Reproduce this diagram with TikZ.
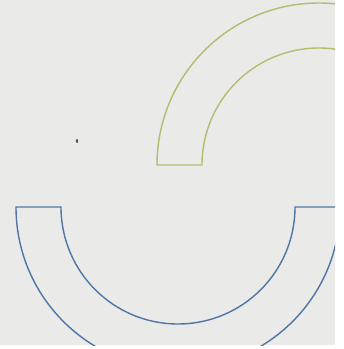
\documentclass[tikz,border=0pt]{standalone}
\usepackage{xcolor}
\usepackage{tikz}
\definecolor{scangray}{RGB}{234,234,232}
\definecolor{ringolive}{RGB}{184,186,112}
\definecolor{ringblue}{RGB}{78,118,166}
\definecolor{speckgreen}{RGB}{75,95,85}
\tikzset{
  ring-yellow/.style={draw=ringolive, line width=0.8pt},
  ring-blue/.style={draw=ringblue, line width=0.8pt},
  scan-bg/.style={fill=scangray, draw=none}
}

\begin{document}
\begin{tikzpicture}[x=0.02cm, y=0.02cm]
  \useasboundingbox (0,0) rectangle (344,349);
  \fill[white] (0,0) rectangle (344,349);
  \path[scan-bg] (0,4) rectangle (335,349);
  \begin{scope}
    \clip (0,4) rectangle (335,349);
    % upper ring, open side down
    \draw[ring-yellow] (157,184) -- (202,184) arc (180:0:117) -- (481,184) arc (0:180:162) -- cycle;
    % lower ring, open side up
    \draw[ring-blue] (16,142) -- (61,142) arc (180:360:117) -- (340,142) arc (360:180:162) -- cycle;
  \end{scope}
  \fill[speckgreen] (77,208) ellipse (1.2 and 2);
\end{tikzpicture}
\end{document}
